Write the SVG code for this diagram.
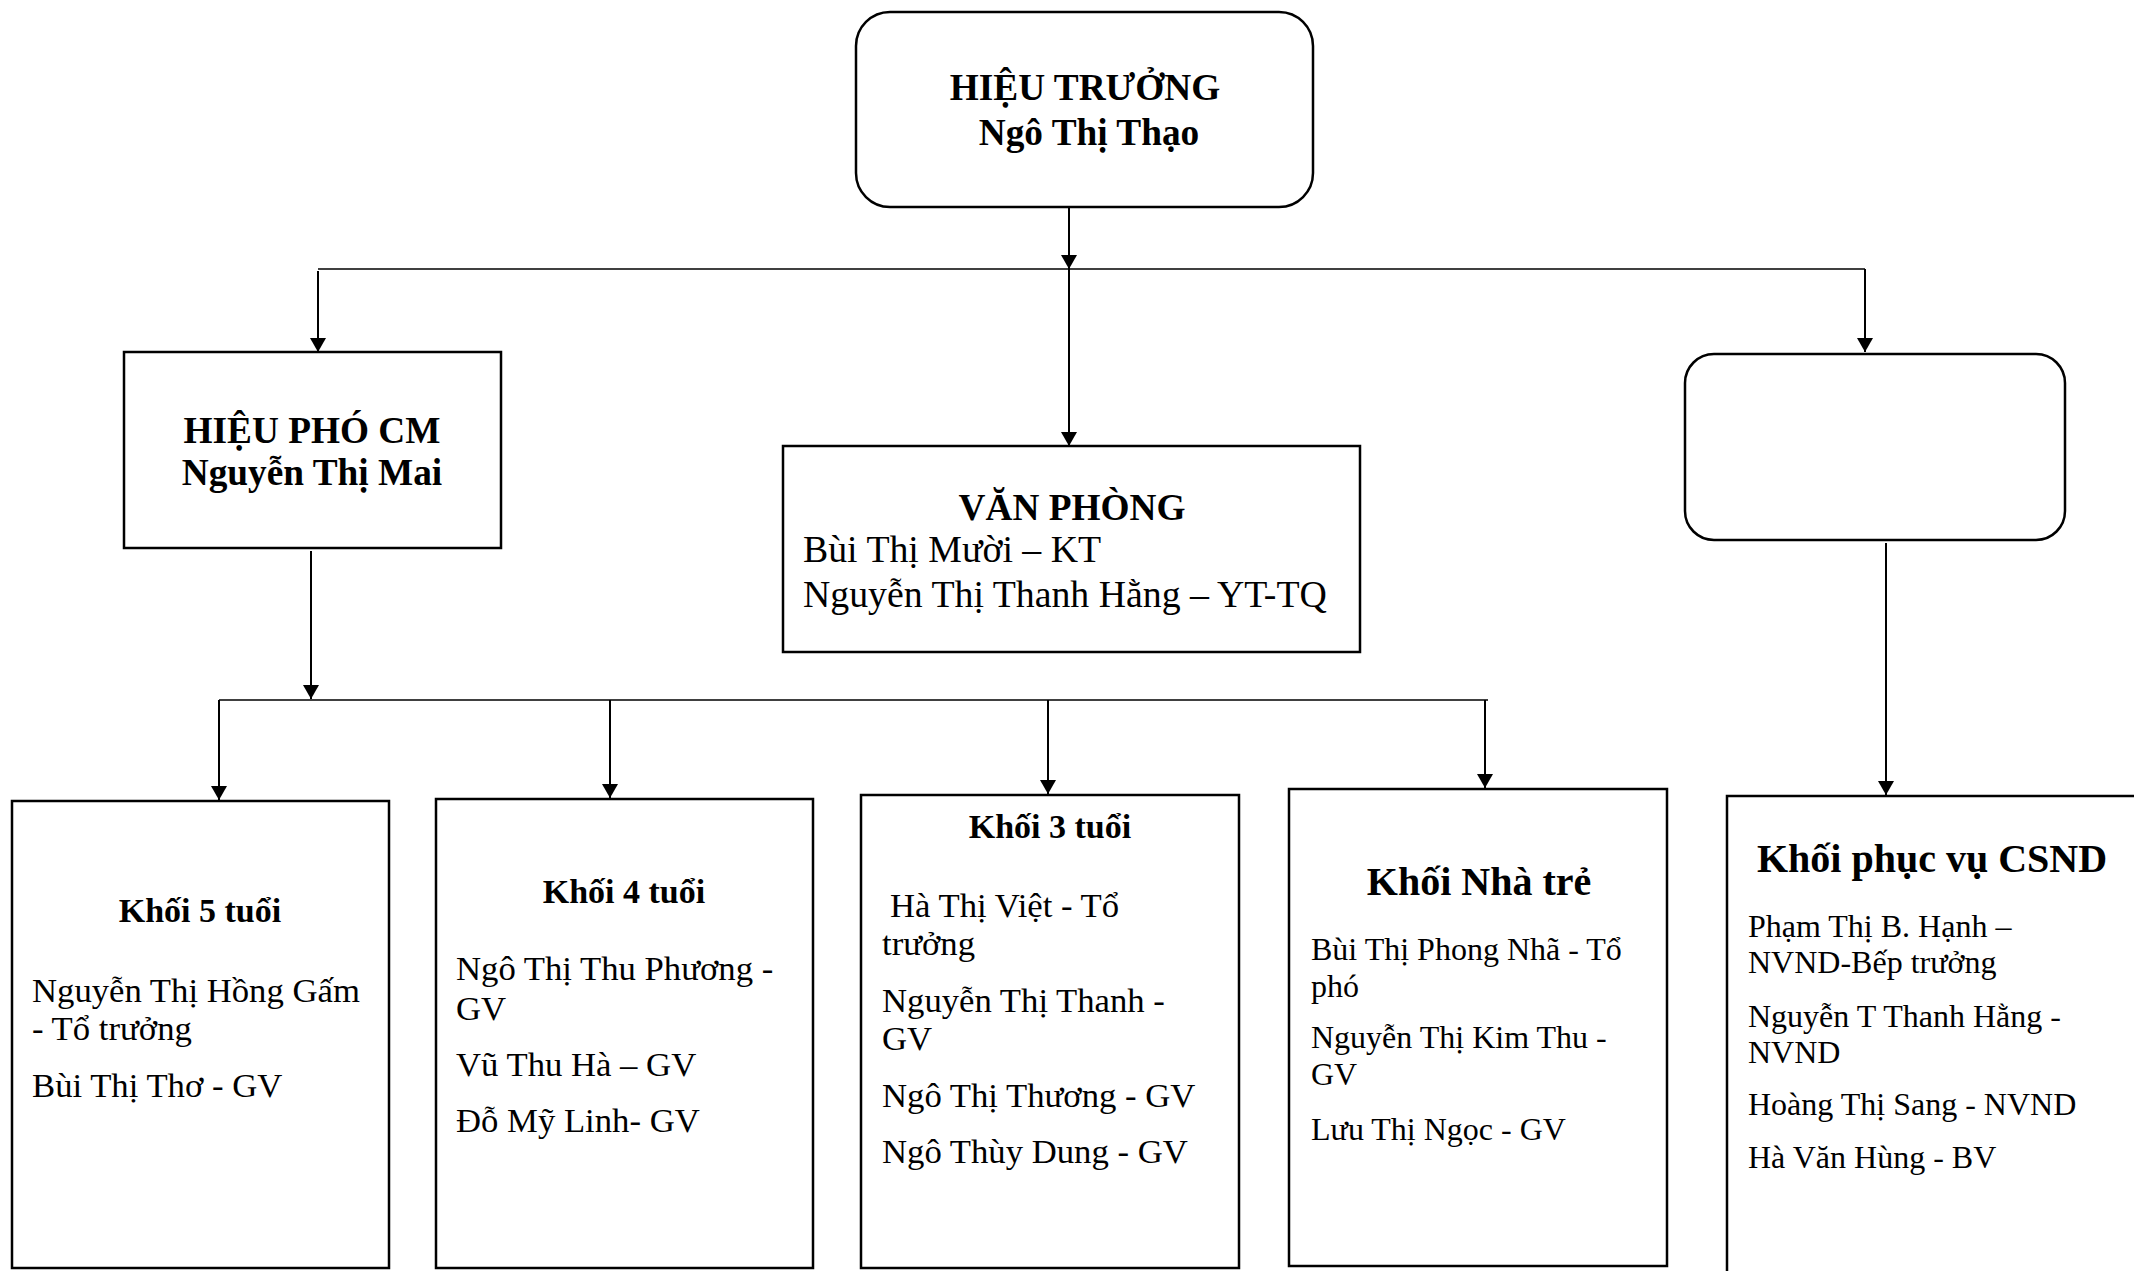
<svg xmlns="http://www.w3.org/2000/svg" width="2134" height="1271" viewBox="0 0 2134 1271">
<style>
  .box { fill: #ffffff; stroke: #000000; stroke-width: 2.5; }
  .conn { fill: none; stroke: #000000; stroke-width: 2; }
  .bus { fill: none; stroke: #000000; stroke-width: 1.5; }
  text { font-family: "Liberation Serif", "Times New Roman", serif; fill: #000000; }
  .h1 { font-size: 37.3px; font-weight: bold; text-anchor: middle; }
  .h2 { font-size: 34px; font-weight: bold; text-anchor: middle; }
  .h3 { font-size: 40px; font-weight: bold; text-anchor: middle; }
  .b37 { font-size: 37.8px; }
  .b34 { font-size: 34.7px; }
  .b32 { font-size: 32px; }
</style>
<defs>
  <marker id="arrow" markerUnits="userSpaceOnUse" markerWidth="16" markerHeight="18" refX="14" refY="8" orient="auto">
    <path d="M0,0 L14,8 L0,16 z" fill="#000000"/>
  </marker>
</defs>
<rect width="2134" height="1271" fill="#ffffff"/>

<g id="connectors">
  <line class="conn" x1="1069" y1="207" x2="1069" y2="269" marker-end="url(#arrow)"/>
  <line class="conn" x1="1069" y1="269" x2="1069" y2="446" marker-end="url(#arrow)"/>
  <line class="bus" x1="318" y1="269" x2="1865" y2="269"/>
  <line class="conn" x1="318" y1="271" x2="318" y2="352" marker-end="url(#arrow)"/>
  <line class="conn" x1="1865" y1="269" x2="1865" y2="352" marker-end="url(#arrow)"/>
  <line class="conn" x1="311" y1="551" x2="311" y2="699" marker-end="url(#arrow)"/>
  <line class="bus" x1="219" y1="700" x2="1488" y2="700"/>
  <line class="conn" x1="219" y1="700" x2="219" y2="800" marker-end="url(#arrow)"/>
  <line class="conn" x1="610" y1="700" x2="610" y2="798" marker-end="url(#arrow)"/>
  <line class="conn" x1="1048" y1="700" x2="1048" y2="794" marker-end="url(#arrow)"/>
  <line class="conn" x1="1485" y1="700" x2="1485" y2="788" marker-end="url(#arrow)"/>
  <line class="conn" x1="1886" y1="543" x2="1886" y2="795" marker-end="url(#arrow)"/>
</g>

<g id="hieu-truong">
  <rect class="box" x="856" y="12" width="457" height="195" rx="34" ry="34"/>
  <text class="h1" x="1085" y="100">HIỆU TRƯỞNG</text>
  <text class="h1" x="1089" y="145">Ngô Thị Thạo</text>
</g>

<g id="hieu-pho">
  <rect class="box" x="124" y="352" width="377" height="196"/>
  <text class="h1" x="312" y="443">HIỆU PHÓ CM</text>
  <text class="h1" x="312" y="485">Nguyễn Thị Mai</text>
</g>

<g id="van-phong">
  <rect class="box" x="783" y="446" width="577" height="206"/>
  <text class="h1" x="1072" y="520">VĂN PHÒNG</text>
  <text class="b37" x="803" y="562">Bùi Thị Mười – KT</text>
  <text class="b37" x="803" y="607">Nguyễn Thị Thanh Hằng – YT-TQ</text>
</g>

<g id="hieu-pho-2">
  <rect class="box" x="1685" y="354" width="380" height="186" rx="29" ry="29"/>
</g>

<g id="khoi-5">
  <rect class="box" x="12" y="801" width="377" height="467"/>
  <text class="h2" x="200" y="922">Khối 5 tuổi</text>
  <text class="b34" x="32" y="1002">Nguyễn Thị Hồng Gấm</text>
  <text class="b34" x="32" y="1040">- Tổ trưởng</text>
  <text class="b34" x="32" y="1097">Bùi Thị Thơ - GV</text>
</g>

<g id="khoi-4">
  <rect class="box" x="436" y="799" width="377" height="469"/>
  <text class="h2" x="624" y="903">Khối 4 tuổi</text>
  <text class="b34" x="456" y="980">Ngô Thị Thu Phương -</text>
  <text class="b34" x="456" y="1020">GV</text>
  <text class="b34" x="456" y="1076">Vũ Thu Hà – GV</text>
  <text class="b34" x="456" y="1132">Đỗ Mỹ Linh- GV</text>
</g>

<g id="khoi-3">
  <rect class="box" x="861" y="795" width="378" height="473"/>
  <text class="h2" x="1050" y="838">Khối 3 tuổi</text>
  <text class="b34" x="890" y="917">Hà Thị Việt - Tổ</text>
  <text class="b34" x="882" y="955">trưởng</text>
  <text class="b34" x="882" y="1012">Nguyễn Thị Thanh -</text>
  <text class="b34" x="882" y="1050">GV</text>
  <text class="b34" x="882" y="1107">Ngô Thị Thương - GV</text>
  <text class="b34" x="882" y="1163">Ngô Thùy Dung - GV</text>
</g>

<g id="khoi-nha-tre">
  <rect class="box" x="1289" y="789" width="378" height="477"/>
  <text class="h3" x="1479" y="895">Khối Nhà trẻ</text>
  <text class="b32" x="1311" y="960">Bùi Thị Phong Nhã - Tổ</text>
  <text class="b32" x="1311" y="997">phó</text>
  <text class="b32" x="1311" y="1048">Nguyễn Thị Kim Thu -</text>
  <text class="b32" x="1311" y="1085">GV</text>
  <text class="b32" x="1311" y="1140">Lưu Thị Ngọc - GV</text>
</g>

<g id="khoi-phuc-vu">
  <rect class="box" x="1727" y="796" width="440" height="500"/>
  <text class="h3" x="1932" y="872">Khối phục vụ CSND</text>
  <text class="b32" x="1748" y="937">Phạm Thị B. Hạnh –</text>
  <text class="b32" x="1748" y="973">NVND-Bếp trưởng</text>
  <text class="b32" x="1748" y="1027">Nguyễn T Thanh Hằng -</text>
  <text class="b32" x="1748" y="1063">NVND</text>
  <text class="b32" x="1748" y="1115">Hoàng Thị Sang - NVND</text>
  <text class="b32" x="1748" y="1168">Hà Văn Hùng - BV</text>
</g>
</svg>
